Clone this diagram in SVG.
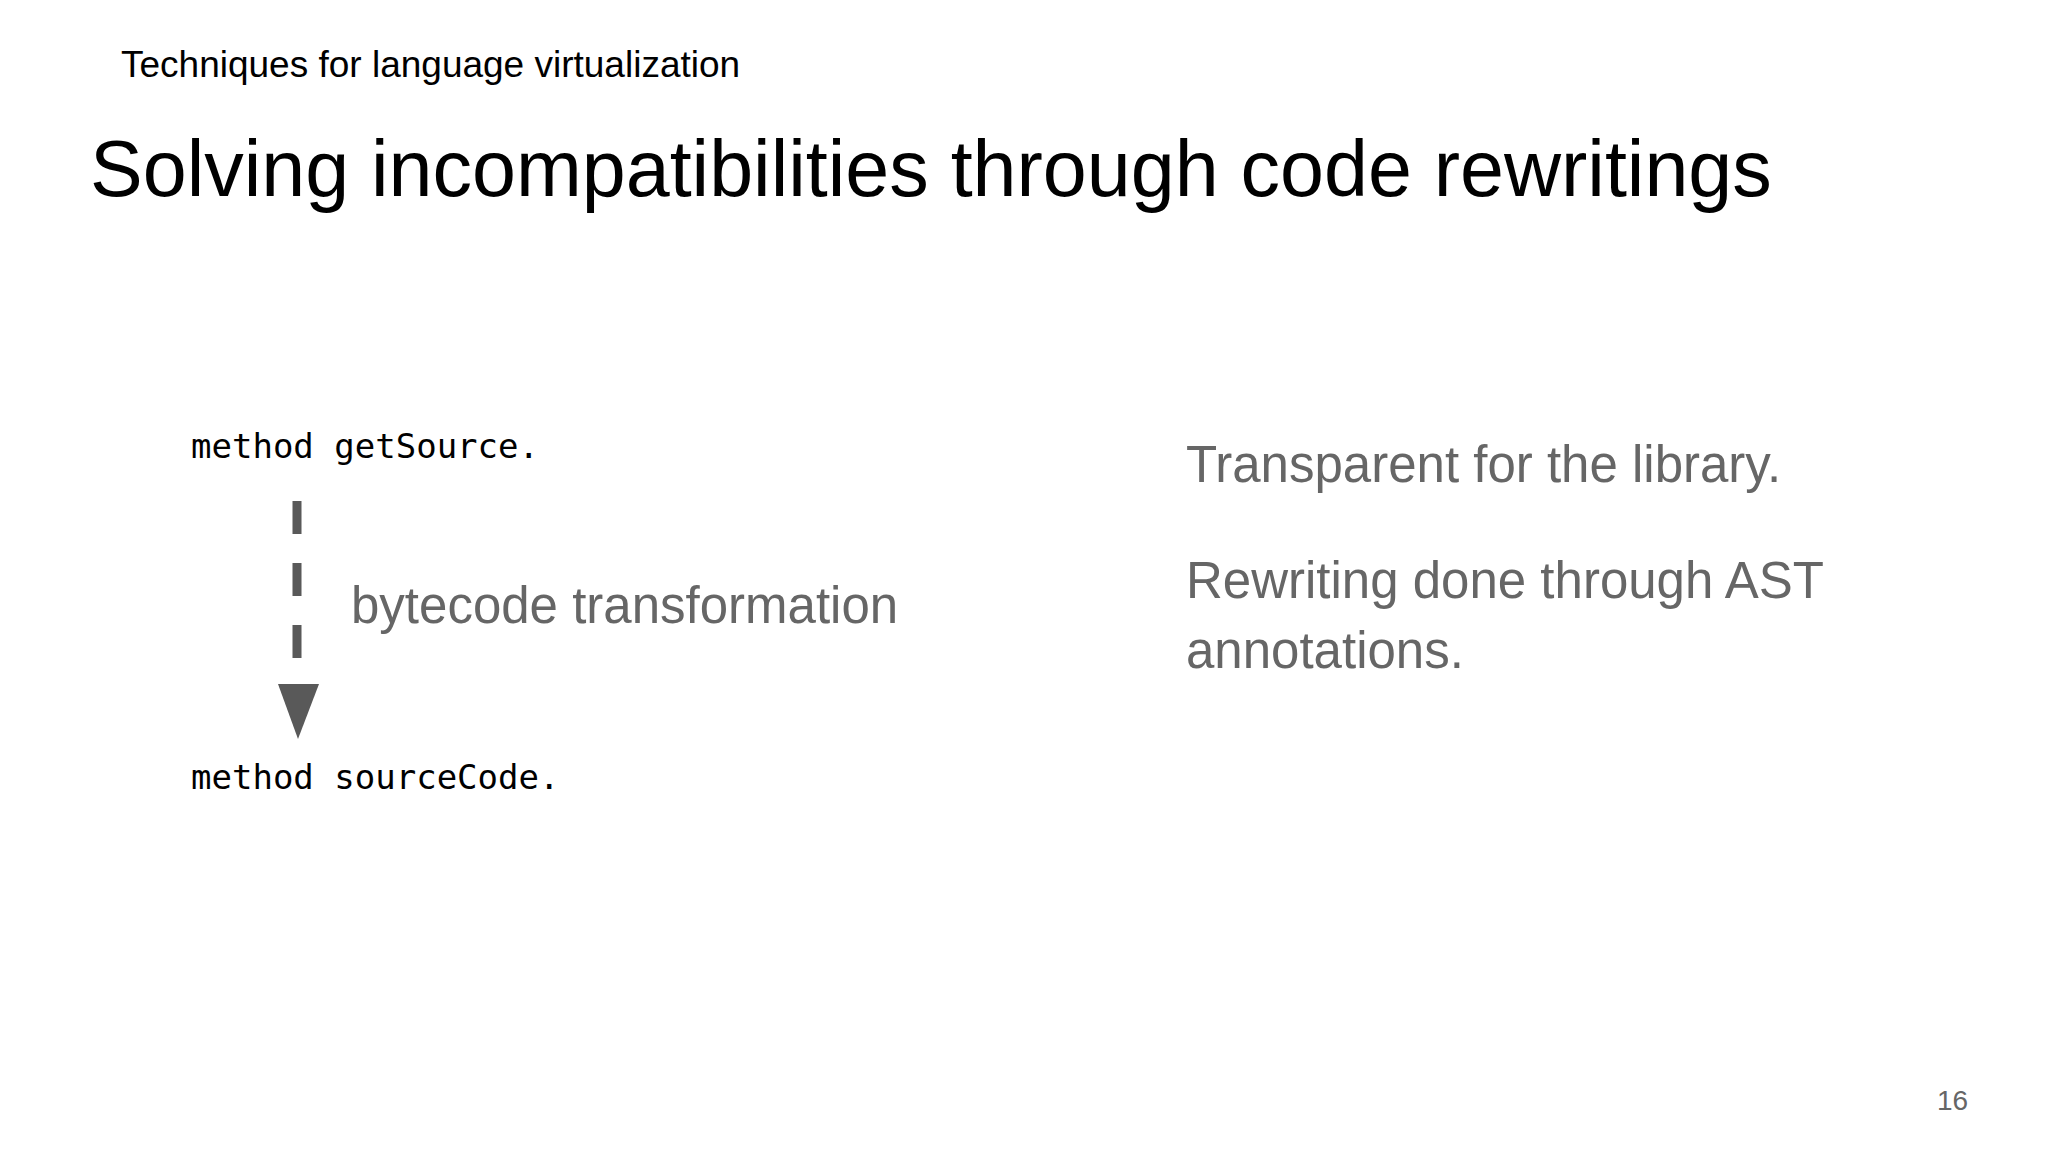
<svg xmlns="http://www.w3.org/2000/svg" width="2048" height="1152" viewBox="0 0 2048 1152">
<style>
.s{font-family:"Liberation Sans",Arial,sans-serif}
.m{font-family:"DejaVu Sans Mono","Liberation Mono",monospace;font-size:34px;fill:#000}
.g{font-family:"Liberation Sans",Arial,sans-serif;font-size:51px;fill:#666}
</style>
<rect width="2048" height="1152" fill="#fff"/>
<text class="s" x="121" y="77" font-size="37" fill="#000">Techniques for language virtualization</text>
<text class="s" x="90" y="196" font-size="79" fill="#000">Solving incompatibilities through code rewritings</text>
<g id="n1"><text class="m" x="191" y="458">method getSource.</text></g>
<g id="n2"><text class="m" x="191" y="789">method sourceCode.</text></g>
<g id="connectors">
<line x1="297" y1="501" x2="297" y2="684" stroke="#595959" stroke-width="9" stroke-dasharray="33,29"/>
<polygon points="278,684 319,684 298,739" fill="#595959"/>
<text class="g" x="351" y="623">bytecode transformation</text>
</g>
<g id="notes">
<text class="g" x="1186" y="482">Transparent for the library.</text>
<text class="g" x="1186" y="598">Rewriting done through AST</text>
<text class="g" x="1186" y="668">annotations.</text>
</g>
<text class="s" x="1937" y="1110" font-size="28" fill="#666">16</text>
</svg>
